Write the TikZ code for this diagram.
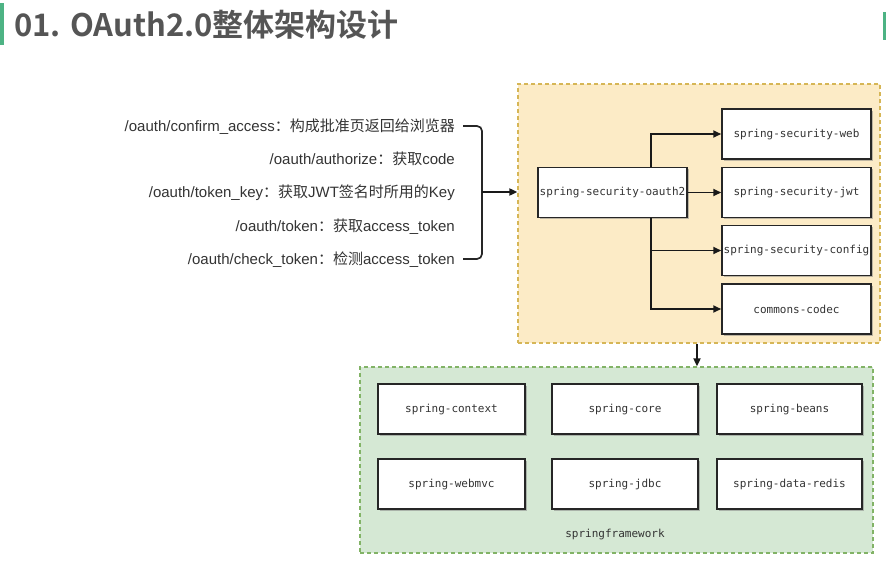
\documentclass[tikz,border=0pt]{standalone}
\usepackage{fontspec}
\setmainfont{Liberation Sans}
\newfontfamily\cjk{Noto Sans CJK SC}
\newfontfamily\cjkb{Noto Sans CJK SC Bold}
\newfontfamily\mono{DejaVu Sans Mono}
\usetikzlibrary{arrows.meta,shadows,calc}
\definecolor{titlegray}{HTML}{555555}
\definecolor{bargreen}{HTML}{4DB384}
\definecolor{orfill}{HTML}{FCEBC6}
\definecolor{ordraw}{HTML}{D6B656}
\definecolor{grfill}{HTML}{D5E8D4}
\definecolor{grdraw}{HTML}{82B366}
\definecolor{txtgray}{HTML}{333333}
\tikzset{
  pkg/.style={draw=black!85, line width=1.5pt, fill=white, minimum height=50pt,
    inner sep=0pt, font=\mono\fontsize{11}{13}\selectfont, text=txtgray,
    drop shadow={shadow xshift=1.5pt, shadow yshift=-1.5pt, opacity=0.5}},
  api/.style={anchor=base east, inner sep=0pt, font=\fontsize{15}{17}\selectfont, text=txtgray},
  conn/.style={draw=black!90, line width=1.7pt, -{Triangle[length=8pt,width=7pt]}},
  grp/.style={dashed, line width=1.2pt, dash pattern=on 4pt off 3pt}
}
\begin{document}
\begin{tikzpicture}[x=1pt,y=-1pt]
\useasboundingbox (0,0) rectangle (886,568);
% title bars
\fill[bargreen] (0,3) rectangle (4,45);
\fill[bargreen] (883,12) rectangle (886,40);
\node[anchor=base west, inner sep=0pt, text=titlegray, font=\cjkb\fontsize{31}{33}\selectfont] (title) at (14,36) {01. OAuth2.0整体架构设计};
% group boxes
\node[grp, draw=ordraw, fill=orfill, minimum width=362pt, minimum height=259pt, inner sep=0pt] (sec) at (699,213.5) {};
\node[grp, draw=grdraw, fill=grfill, minimum width=513pt, minimum height=186pt, inner sep=0pt] (spf) at (616.5,460) {};
% endpoint list
\node[api] (l1) at (455,131) {/oauth/confirm\_access{\cjk ：构成批准页返回给浏览器}};
\node[api] (l2) at (455,164) {/oauth/authorize{\cjk ：获取}code};
\node[api] (l3) at (455,197) {/oauth/token\_key{\cjk ：获取}JWT{\cjk 签名时所用的}Key};
\node[api] (l4) at (455,231) {/oauth/token{\cjk ：获取}access\_token};
\node[api] (l5) at (455,264) {/oauth/check\_token{\cjk ：检测}access\_token};
\coordinate (b1) at (463,126);
\coordinate (b5) at (463,259);
\coordinate (bm) at (482,192);
\draw[draw=black!85, line width=1.7pt, rounded corners=5pt] (b1) -| (bm) |- (b5);
\draw[conn] (bm) -- (sec.west |- bm);
% oauth2 module
\node[pkg, minimum width=149pt] (oa) at (612.5,192.5) {spring-security-oauth2};
\node[pkg, minimum width=149pt] (web) at (796.5,134) {spring-security-web};
\node[pkg, minimum width=149pt] (jwt) at (796.5,192.5) {spring-security-jwt};
\node[pkg, minimum width=149pt] (cfg) at (796.5,250.5) {spring-security-config};
\node[pkg, minimum width=149pt] (cod) at (796.5,309) {commons-codec};
\coordinate (tr) at (651,192);
\draw[conn] (oa.north -| tr) |- (web.west);
\draw[conn] (oa.east) -- (jwt.west);
\draw[conn] (oa.south -| tr) |- (cfg.west);
\draw[conn] (oa.south -| tr) |- (cod.west);
% down arrow
\coordinate (dx) at (697,0);
\draw[conn] (sec.south -| dx) -- (spf.north -| dx);
% springframework modules
\node[pkg, minimum width=147pt] (ctx) at (451.5,409) {spring-context};
\node[pkg, minimum width=146pt] (core) at (625,409) {spring-core};
\node[pkg, minimum width=145pt] (beans) at (789.5,409) {spring-beans};
\node[pkg, minimum width=147pt] (mvc) at (451.5,484) {spring-webmvc};
\node[pkg, minimum width=146pt] (jdbc) at (625,484) {spring-jdbc};
\node[pkg, minimum width=145pt] (redis) at (789.5,484) {spring-data-redis};
\node[inner sep=0pt, font=\mono\fontsize{11}{13}\selectfont, text=txtgray] (spflbl) at (615,534) {springframework};
\end{tikzpicture}
\end{document}
